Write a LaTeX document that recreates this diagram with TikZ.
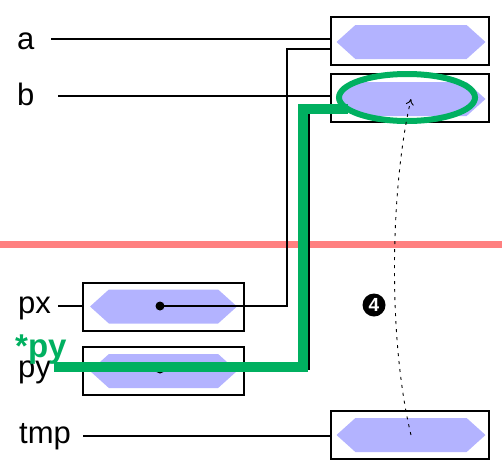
\documentclass[tikz,border=0pt]{standalone}
\usepackage{fontspec}
\setmainfont{Liberation Sans}
\usetikzlibrary{positioning, shapes.symbols, shapes.geometric, arrows.meta}
\definecolor{HexFill} {HTML}{B3B3FF}
\definecolor{SelGreen}{HTML}{00B060}
\definecolor{CutRed}  {HTML}{FF8080}

\begin{document}
\begin{tikzpicture}[x=1pt, y=-1pt,
    cell/.style={draw, line width=2pt, minimum width=158pt, minimum height=48pt, inner sep=0pt},
    hexa/.style={signal, signal to=west and east, signal pointer angle=84,
                 fill=HexFill, minimum width=149pt, minimum height=34pt, inner sep=0pt},
    varname/.style={anchor=base west, inner sep=0pt, font=\fontsize{31}{36}\selectfont},
    wire/.style={line width=2pt},
    dot/.style={circle, fill, inner sep=0pt, minimum size=9pt},
    selpath/.style={draw=SelGreen, line width=10pt},
    trace/.style={line width=0.9pt, dash pattern=on 3pt off 5pt, -{To[length=6pt, width=8pt]}},
    stepmark/.style={circle, fill=black, text=white, inner sep=0pt, minimum size=23pt,
                     font=\fontsize{19}{19}\selectfont\bfseries}]
  \useasboundingbox (0,0) rectangle (502,466);

  % stack / heap divider
  \coordinate (cutL) at (0,244.5);
  \coordinate (cutR) at (502,244.5);
  \draw[CutRed, line width=7pt] (cutL) -- (cutR);

  % heap cells
  \node[cell] (ca) at (410,41) {};
  \node[hexa] (ha) at (411,42) {};
  \node[cell] (cb) at (410,98) {};
  \node[hexa] (hb) at (411,99) {};
  \node[cell] (ct) at (410,435) {};
  \node[hexa] (ht) at (411,435) {};

  % stack cells
  \node[cell, minimum width=161pt] (cx) at (163.5,307) {};
  \node[hexa, minimum width=147pt] (hx) at (163.5,306.5) {};
  \node[cell, minimum width=161pt] (cy) at (163.5,371) {};
  \node[hexa, minimum width=147pt] (hy) at (163.5,371) {};
  \node[dot] (dx) at (160,306) {};
  \node[dot] (dy) at (160,369) {};

  % variable names
  \node[varname] (la) at (17,49) {a};
  \node[varname] (lb) at (17,105) {b};
  \node[varname] (lx) at (18,313) {px};
  \node[varname] (ly) at (18,377) {py};
  \node[varname] (lt) at (19,443) {tmp};
  \node[varname, text=SelGreen, font=\fontsize{33}{38}\selectfont\bfseries] (lsel) at (15,357) {*py};

  % name -> cell wires
  \coordinate (sa) at (51,39);
  \coordinate (sb) at (58,96);
  \coordinate (sx) at (58,306);
  \coordinate (st) at (83,436);
  \draw[wire] (sa) -- (sa -| ca.west);
  \draw[wire] (sb) -- (sb -| cb.west);
  \draw[wire] (sx) -- (sx -| cx.west);
  \draw[wire] (st) -- (st -| ct.west);

  % pointers
  \coordinate (kx) at (287,49);
  \coordinate (ky) at (309,110);
  \draw[wire] (dx.center) -| (kx) -- (kx -| ca.west);
  \draw[wire] (dy.center) -| (ky) -- (ky -| cb.west);

  % highlighted *py
  \node[draw=SelGreen, line width=6pt, ellipse, minimum width=136pt, minimum height=47pt,
        inner sep=0pt] (esel) at (407,97.5) {};
  \coordinate (gs) at (54,366.5);
  \coordinate (gk) at (302.5,108.5);
  \coordinate (ge) at (348,108.5);
  \draw[selpath] (gs) -| (gk) -- (ge);

  % copy from tmp
  \draw[trace] (ht.center) .. controls (388,340) and (390,190) .. (hb.center);
  \node[stepmark] (m4) at (374,305) {4};
\end{tikzpicture}
\end{document}
